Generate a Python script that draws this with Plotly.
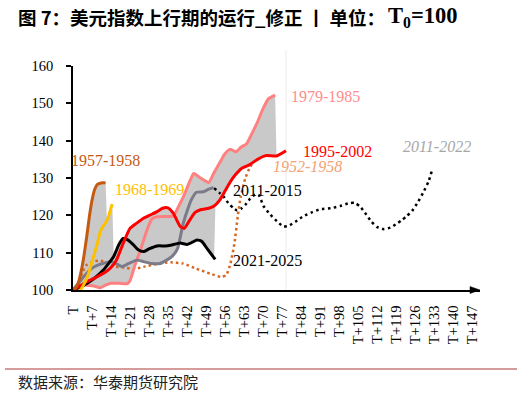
import numpy as np
import plotly.graph_objects as go

# ---------------- data ----------------
tick_vals = list(range(0, 148, 7))
tick_text = ["T"] + ["T+%d" % v for v in tick_vals[1:]]

x_1957 = [0, 1, 2, 3, 4, 5, 6, 7, 8, 9, 10, 11, 12]
y_1957 = [100, 100.5, 102, 105, 109, 114, 119.5, 124, 127, 128.3, 128.6, 128.7, 128.7]

x_1968 = [0, 1, 2, 3, 4, 5, 6, 7, 8, 9, 10, 11, 12, 13, 14, 14.5]
y_1968 = [100, 99.6, 99.5, 100.3, 101.5, 103, 105, 107.5, 110, 112.5, 115.5, 117, 118, 119.5, 122, 123]

x_1979 = [0, 2, 4, 6, 8, 10, 12, 14, 17, 20, 21, 23, 25, 27, 29, 31, 34, 37, 39, 41, 43,
          44.5, 47, 50, 52, 54, 56, 58, 60, 62, 64, 66, 68, 70, 72, 74.5]
y_1979 = [100, 100.8, 101.3, 101.2, 101.0, 100.6, 101.3, 101.8, 101.8, 101.7, 102.5, 107, 111,
          115.5, 119, 119.6, 119.7, 119.8, 122.5, 125.5, 129, 131.2, 130, 128.8, 131.5, 134,
          136.5, 137.7, 137, 138.3, 139.2, 142, 145, 148.5, 151.2, 152.2]

x_1995 = [0, 3, 5, 9, 12, 14, 16, 18.5, 21, 23.5, 26, 28.5, 31, 33, 35, 37, 39.5, 41, 43, 45,
          47, 50, 52, 54, 56, 58, 60, 62, 65, 68, 71, 75, 78.5]
y_1995 = [100, 101.3, 102.2, 103.6, 104.8, 106, 108, 112.5, 116.5, 117.9, 119.2, 120.1, 121,
          121.9, 122, 120.5, 117, 116.5, 118.7, 120.8, 121.5, 121.9, 122.5, 124, 126.5, 129,
          131, 132.5, 133.5, 135, 136, 135.9, 137.3]

x_2011a = [0, 2, 4, 6, 8, 11, 14, 16, 18, 20.5, 23.5, 26, 29, 32, 34.5, 36.5, 38.5, 40.5, 42,
           43.5, 45.5, 48, 50, 51.8]
y_2011a = [100, 101.8, 103.6, 105.2, 106.3, 107.1, 107.6, 107, 106.3, 107.1, 108, 107.6, 107.1,
           107.1, 108, 109, 111, 117.5, 121, 124, 126.2, 126.3, 127, 127.5]

x_2021 = [0, 4, 8, 11, 13, 15, 17, 18.5, 20, 22, 24, 26, 28, 31, 34, 36, 39.5, 42, 44, 45.7,
          47.5, 49.5, 52.4]
y_2021 = [100, 101.3, 103.2, 105.2, 107, 109, 112.3, 113.8, 113.5, 112.3, 110.8, 110.3, 111,
          111.8, 111.8, 112, 112.6, 112.2, 112.8, 113.4, 113, 111, 108.2]

x_1952 = [0, 2, 3.5, 5, 7.5, 10, 12.5, 15.5, 19, 22.5, 26, 31, 36, 40.5, 45.5, 50.5, 54.5,
          56.5, 58, 59.5, 60.7, 61.8, 63.5, 65.3, 66.3]
y_1952 = [100, 101.8, 104.8, 106.7, 107.6, 107.9, 107.2, 106.3, 106, 105.6, 106.2, 107, 107.4,
          107.1, 105.7, 104.4, 103.5, 104, 107, 112.5, 119.6, 125, 129.9, 133, 134]

x_2011b = [52, 55.5, 57.3, 59.2, 60.5, 62, 63.5, 65.3, 67.2, 68.5, 70.2, 72.7, 75.2, 77.6, 79.5,
           82, 85, 88, 91, 95, 98.5, 102, 104, 106, 108, 110, 112, 114.5, 117, 119, 121, 123,
           125, 127, 129, 131, 132.3]
y_2011b = [127.3, 125, 123.2, 121.9, 121.3, 121.8, 122.8, 124.5, 125.6, 125.4, 122.5, 120.2,
           118.4, 117, 117.2, 118.3, 119.8, 120.8, 121.6, 121.9, 122.5, 123.3, 123.3, 122.2,
           120.3, 118.3, 116.9, 116.3, 116.7, 117.6, 118.6, 119.8, 121.2, 123.4, 126, 129, 132]

labels = ["1957-1958", "1968-1969", "1979-1985", "1995-2002",
          "2011-2015", "2021-2025", "1952-1958", "2011-2022"]

# ---------------- layout constants ----------------
W, H = 522, 394
ML, MR, MT, MB = 73, 42, 66, 104
X_RANGE = [0, 150]
Y_RANGE = [100, 160]
PW = W - ML - MR
PH = H - MT - MB

def px_x(p):
    return (p - ML) / PW

def px_y(p):
    return (H - MB - p) / PH

fig = go.Figure()

# ---------------- grey range band (envelope of the solid series) ----------------
solid = [(x_1957, y_1957), (x_1968, y_1968), (x_1979, y_1979), (x_1995, y_1995),
         (x_2011a, y_2011a), (x_2021, y_2021)]
xmax = max(max(s[0]) for s in solid)
grid = np.arange(0, xmax + 0.001, 0.5)
up, lo = [], []
for g in grid:
    vals = [np.interp(g, xs, ys) for xs, ys in solid if xs[0] <= g <= xs[-1]]
    up.append(max(vals))
    lo.append(min(vals))
band_x = list(grid) + list(grid[::-1])
band_y = up + lo[::-1]
fig.add_trace(go.Scatter(x=band_x, y=band_y, fill="toself", fillcolor="#C9C9C9",
                         line=dict(width=0), mode="lines", hoverinfo="skip", showlegend=False))

# faint vertical guide at the end of the 1995-2002 path
fig.add_shape(type="line", xref="x", yref="paper", x0=x_1995[-1], x1=x_1995[-1],
              y0=0, y1=1.07, line=dict(color="#ECECEC", width=1), layer="below")

def line(xs, ys, color, name, width=3, dash=None):
    fig.add_trace(go.Scatter(x=xs, y=ys, mode="lines", name=name, showlegend=False,
                             line=dict(color=color, width=width, dash=dash,
                                       shape="spline", smoothing=0.5)))

line(x_1952, y_1952, "#D9661F", labels[6], width=2.5, dash="2.5px,3px")
line(x_2011b, y_2011b, "#000000", labels[7], width=2.5, dash="2.5px,3.5px")
line(x_1979, y_1979, "#FF8080", labels[2])
line(x_2011a, y_2011a, "#7B7B8A", labels[4])
line(x_2021, y_2021, "#000000", labels[5])
line(x_1995, y_1995, "#FF0000", labels[3])
line(x_1968, y_1968, "#FFC000", labels[1])
line(x_1957, y_1957, "#C55A11", labels[0])

serif = "Liberation Serif, Times New Roman, serif"
cjk = "Noto Sans CJK SC"

# series labels
lab_pos = [
    (labels[0], 11.9, 134.8, "#C55A11", False),
    (labels[1], 28.2, 126.8, "#FFC000", False),
    (labels[2], 93.2, 151.8, "#FF8C8C", False),
    (labels[3], 97.5, 137.0, "#FF0000", False),
    (labels[4], 71.5, 126.6, "#000000", False),
    (labels[5], 71.5, 108.0, "#000000", False),
    (labels[6], 86.5, 133.0, "#F5A070", True),
    (labels[7], 134.0, 138.4, "#A6A6A6", True),
]
for txt, x, y, c, it in lab_pos:
    fig.add_annotation(x=x, y=y, xref="x", yref="y", text=("<i>%s</i>" % txt) if it else txt,
                       showarrow=False, font=dict(family=serif, size=16, color=c),
                       xanchor="center", yanchor="middle")

# x axis arrow head
fig.add_shape(type="path", xref="paper", yref="paper",
              path="M %f,%f L 1,0 L %f,%f Z" % (1 - 10 / PW, 3.5 / PH, 1 - 10 / PW, -3.5 / PH),
              fillcolor="#000000", line=dict(color="#000000", width=0.5))

# title (CJK part and Latin part)
fig.add_annotation(xref="paper", yref="paper", x=px_x(16), y=px_y(17), xanchor="left",
                   yanchor="middle", showarrow=False,
                   text="<b>图 7：美元指数上行期的运行_修正 丨 单位：</b>",
                   font=dict(family=cjk, size=18.5, color="#000000"))
fig.add_annotation(xref="paper", yref="paper", x=px_x(386), y=px_y(17), xanchor="left",
                   yanchor="middle", showarrow=False,
                   text="<b>T<sub>0</sub>=100</b>",
                   font=dict(family=serif, size=22.5, color="#000000"))

# footer rule and source
fig.add_shape(type="line", xref="paper", yref="paper", x0=px_x(5), x1=px_x(517),
              y0=px_y(369), y1=px_y(369), line=dict(color="#C97A7A", width=1.5))
fig.add_annotation(xref="paper", yref="paper", x=px_x(16), y=px_y(381), xanchor="left",
                   yanchor="middle", showarrow=False, text="数据来源：华泰期货研究院",
                   font=dict(family=cjk, size=15, color="#222222"))

fig.update_layout(
    width=W, height=H, margin=dict(l=ML, r=MR, t=MT, b=MB),
    paper_bgcolor="white", plot_bgcolor="white",
    xaxis=dict(range=X_RANGE, tickvals=tick_vals, ticktext=tick_text, tickangle=-90,
               showgrid=False, zeroline=False, showline=True, linecolor="#000000",
               linewidth=1.5, ticks="", ticklabelstandoff=8,
               tickfont=dict(family=serif, size=14.5, color="#000000")),
    yaxis=dict(range=Y_RANGE, tickvals=list(range(100, 161, 10)), showgrid=False,
               zeroline=False, showline=True, linecolor="#000000", linewidth=1.5,
               ticks="outside", ticklen=5, tickwidth=1.5, tickcolor="#000000",
               ticklabelstandoff=10,
               tickfont=dict(family=serif, size=14.5, color="#000000")),
)

fig.write_html("out.html", config={"displayModeBar": False})

# remove the browser's default page margin so the figure sits at the window origin
with open("out.html", encoding="utf-8") as f:
    html = f.read()
html = html.replace("<head>", "<head><style>html,body{margin:0;padding:0;overflow:hidden;}</style>", 1)
with open("out.html", "w", encoding="utf-8") as f:
    f.write(html)
